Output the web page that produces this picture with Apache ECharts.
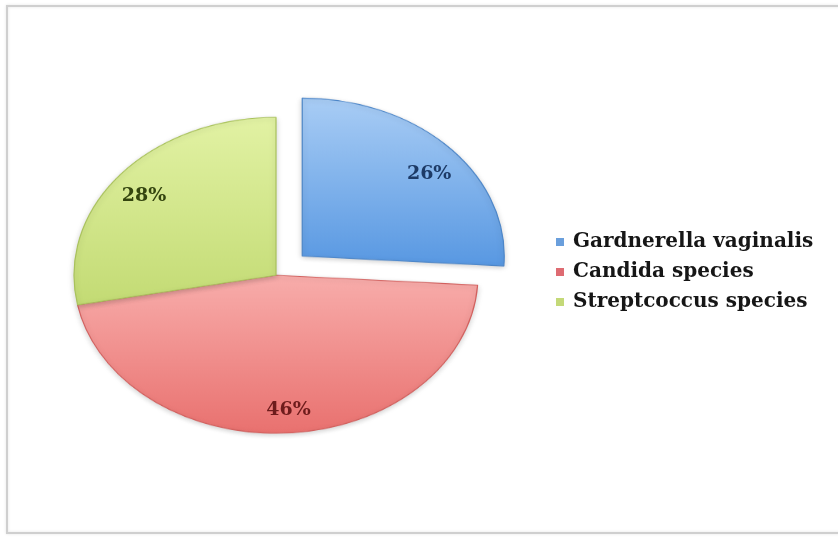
<!DOCTYPE html>
<html>
<head>
<meta charset="utf-8">
<script src="https://cdn.jsdelivr.net/npm/echarts@6/dist/echarts.min.js"></script>
<style>
  html, body { margin: 0; padding: 0; background: #ffffff; overflow: hidden; }
  #stage { position: relative; width: 838px; height: 539px; overflow: hidden; }
  #pie { position: absolute; left: 0; top: 0; width: 838px; height: 720px;
         transform: scaleY(0.782); transform-origin: 0 0; }
  #over { position: absolute; left: 0; top: 0; width: 838px; height: 539px; }
</style>
</head>
<body>
<div id="stage">
  <div id="pie"></div>
  <div id="over"></div>
</div>
<script>
// Organism shares (percent of isolates)
const categories = ['Gardnerella vaginalis', 'Candida species', 'Streptcoccus species'];
const shares = [26, 46, 28];
const explodedIndex = 0;

// Look of each slice: [top, bottom, edge] and label ink
const sliceColors = [
  ['#a9cdf5', '#5898e2', '#4d86c8'],
  ['#f8adab', '#e9716f', '#d2605e'],
  ['#e2f2a4', '#c3db74', '#a9c25c']
];
const labelInk = ['#1d3a66', '#6e1c1c', '#34450f'];
const legendSwatch = ['#6a9fdc', '#de6b72', '#c4d978'];
// small shifts that place the percentages on the tilted face of the pie
const labelNudge = [[4, 8], [2, 3], [-2, 5]];

// The pie is drawn round and flattened vertically by this factor
const SQUASH = 0.782;
const CENTER = [276, 352];
const RADIUS = 202;
const EXPLODE = 36;

const FONT = '"DejaVu Serif", serif';

function grad(c) {
  return new echarts.graphic.LinearGradient(0, 0, 0, 1, [
    { offset: 0, color: c[0] },
    { offset: 1, color: c[1] }
  ]);
}

// angle (radians, clockwise from 12 o'clock) of each slice's middle
const total = shares.reduce((a, b) => a + b, 0);
const midAngles = [];
shares.reduce((acc, v) => { midAngles.push((acc + v / 2) / total * Math.PI * 2); return acc + v; }, 0);

const pieData = categories.map((name, i) => ({
  name: name,
  value: shares[i],
  selected: i === explodedIndex,
  itemStyle: {
    color: grad(sliceColors[i]),
    borderColor: sliceColors[i][2],
    borderWidth: 1.2
  }
}));

const pieChart = echarts.init(document.getElementById('pie'), null, { renderer: 'canvas' });
pieChart.setOption({
  animation: false,
  series: [{
    type: 'pie',
    center: CENTER,
    radius: [0, RADIUS],
    startAngle: 90,
    clockwise: true,
    selectedMode: 'single',
    selectedOffset: EXPLODE,
    label: { show: false },
    labelLine: { show: false },
    emphasis: { disabled: true },
    itemStyle: {
      shadowColor: 'rgba(0,0,0,0.18)',
      shadowBlur: 6,
      shadowOffsetY: 2
    },
    data: pieData
  }]
});

// Overlay: legend, percentage labels and frame, kept at natural proportions
const labelData = categories.map((name, i) => ({
  name: name,
  value: shares[i],
  itemStyle: { color: 'rgba(0,0,0,0)' },
  label: { color: labelInk[i] }
}));

const over = echarts.init(document.getElementById('over'), null, { renderer: 'canvas' });
over.setOption({
  animation: false,
  graphic: [{
    type: 'rect',
    shape: { x: 7, y: 6, width: 845, height: 527 },
    style: { fill: 'none', stroke: '#cfcfcf', lineWidth: 2,
             shadowColor: 'rgba(0,0,0,0.12)', shadowBlur: 3 },
    silent: true
  }],
  legend: {
    orient: 'vertical',
    left: 551,
    top: 227,
    itemWidth: 8,
    itemHeight: 8,
    itemGap: 10,
    icon: 'rect',
    selectedMode: false,
    textStyle: { fontFamily: FONT, fontWeight: 'bold', fontSize: 20, lineHeight: 20,
                 color: '#161616', padding: [0, 0, 0, 4] },
    data: categories.map((name, i) => ({ name: name, itemStyle: { color: legendSwatch[i] } }))
  },
  series: [{
    type: 'pie',
    center: CENTER,
    radius: [RADIUS * 0.64, RADIUS],
    startAngle: 90,
    clockwise: true,
    silent: true,
    emphasis: { disabled: true },
    label: {
      show: true,
      position: 'inside',
      formatter: '{c}%',
      fontFamily: FONT,
      fontWeight: 'bold',
      fontSize: 19
    },
    labelLine: { show: false },
    labelLayout: function (params) {
      const i = params.dataIndex;
      const r = params.labelRect;
      const n = labelNudge[i];
      let x = r.x + r.width / 2;
      let y = (r.y + r.height / 2) * SQUASH;
      if (i === explodedIndex) {
        // follow the pulled-out slice
        x += EXPLODE * Math.sin(midAngles[i]);
        y -= EXPLODE * Math.cos(midAngles[i]) * SQUASH;
      }
      return { x: x + n[0], y: y + n[1] };
    },
    data: labelData
  }]
});
</script>
</body>
</html>
